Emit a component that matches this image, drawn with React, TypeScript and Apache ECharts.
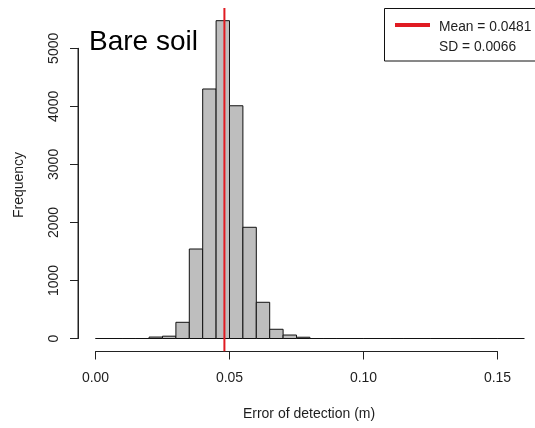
import React, { useEffect, useRef } from "react";
import * as echarts from "echarts";

const BIN_START = 0;
const BIN_WIDTH = 0.005;
const binCounts = [
  0, 0, 0, 0, 25, 40, 279, 1542, 4299, 5476, 4010, 1916, 624, 159, 60, 22,
  0, 0, 0, 0, 0, 0, 0, 0, 0, 0, 0, 0, 0, 0, 0, 0,
];
const MEAN = 0.0481;
const SD = 0.0066;
const xTicks = [0, 0.05, 0.1, 0.15];
const yTicks = [0, 1000, 2000, 3000, 4000, 5000];
const TITLE = "Bare soil";
const X_LABEL = "Error of detection (m)";
const Y_LABEL = "Frequency";

const FONT = "'Liberation Sans', Arial, sans-serif";
const TXT = "#1e1e1e";
const RED = "#e01b22";
const Y_OFFSET = 17.5;

export default function App() {
  const ref = useRef<HTMLDivElement>(null);
  useEffect(() => {
    if (!ref.current) return;
    const chart = echarts.init(ref.current, null, { renderer: "svg" });
    const histData = binCounts.map((c, i) => [
      BIN_START + i * BIN_WIDTH,
      BIN_START + (i + 1) * BIN_WIDTH,
      c,
    ]);
    const maxCount = Math.max(...binCounts);
    chart.setOption({
      animation: false,
      textStyle: { fontFamily: FONT },
      grid: { left: 95.5, right: 37.5, top: 48.3, bottom: 89.5 },
      xAxis: {
        type: "value",
        min: xTicks[0],
        max: xTicks[xTicks.length - 1],
        interval: 0.05,
        offset: 13,
        axisLine: { show: true, onZero: false, lineStyle: { color: "#222", width: 1 } },
        axisTick: { show: true, length: 8, lineStyle: { color: "#222" } },
        axisLabel: {
          margin: 18,
          fontSize: 14,
          color: TXT,
          fontFamily: FONT,
          formatter: (v: number) => v.toFixed(2),
        },
        splitLine: { show: false },
      },
      yAxis: {
        type: "value",
        position: "left",
        min: yTicks[0],
        max: yTicks[yTicks.length - 1],
        interval: 1000,
        offset: Y_OFFSET,
        axisLine: { show: true, onZero: false, lineStyle: { color: "#222", width: 1 } },
        axisTick: { show: true, length: 8, lineStyle: { color: "#222" } },
        axisLabel: {
          rotate: 90,
          margin: 18,
          fontSize: 14,
          color: TXT,
          fontFamily: FONT,
          formatter: (v: number) => String(v),
        },
        splitLine: { show: false },
      },
      series: [
        {
          type: "custom",
          clip: false,
          data: histData,
          encode: { x: [0, 1], y: 2 },
          renderItem: (params: any, api: any) => {
            const p0 = api.coord([api.value(0), 0]);
            const p1 = api.coord([api.value(1), api.value(2)]);
            return {
              type: "polygon",
              shape: {
                points: [
                  [p0[0], p0[1]],
                  [p0[0], p1[1]],
                  [p1[0], p1[1]],
                  [p1[0], p0[1]],
                ],
              },
              style: { fill: "#bebebe", stroke: "#111", lineWidth: 1 },
            };
          },
        },
        {
          type: "custom",
          clip: false,
          silent: true,
          data: [[yTicks[0], yTicks[yTicks.length - 1]]],
          encode: { y: [0, 1] },
          renderItem: (params: any, api: any) => {
            const a = api.coord([xTicks[0], api.value(0)]);
            const b = api.coord([xTicks[0], api.value(1)]);
            return {
              type: "line",
              shape: {
                x1: a[0] - Y_OFFSET,
                y1: a[1],
                x2: b[0] - Y_OFFSET,
                y2: b[1],
              },
              style: { stroke: "#222", lineWidth: 1 },
            };
          },
        },
        {
          type: "custom",
          clip: false,
          data: [[MEAN]],
          encode: { x: 0 },
          renderItem: (params: any, api: any) => {
            const top = api.coord([api.value(0), maxCount * 1.04]);
            const bot = api.coord([api.value(0), -maxCount * 0.04]);
            return {
              type: "line",
              shape: { x1: top[0], y1: top[1], x2: bot[0], y2: bot[1] },
              style: { stroke: RED, lineWidth: 2 },
              z2: 10,
            };
          },
        },
      ],
      graphic: [
        {
          type: "text",
          x: 89,
          y: 40,
          style: {
            text: TITLE,
            font: `28px ${FONT}`,
            fill: "#000",
            textVerticalAlign: "middle",
          },
        },
        {
          type: "text",
          x: 18,
          y: 185,
          rotation: Math.PI / 2,
          style: {
            text: Y_LABEL,
            font: `14px ${FONT}`,
            fill: TXT,
            textAlign: "center",
            textVerticalAlign: "middle",
          },
        },
        {
          type: "text",
          x: 309,
          y: 413,
          style: {
            text: X_LABEL,
            font: `14px ${FONT}`,
            fill: TXT,
            textAlign: "center",
            textVerticalAlign: "middle",
          },
        },
        {
          type: "rect",
          shape: { x: 384.5, y: 8.5, width: 160, height: 52.5 },
          style: { fill: "#fff", stroke: "#111", lineWidth: 1 },
          z: 20,
        },
        {
          type: "line",
          shape: { x1: 395, y1: 25, x2: 430, y2: 25 },
          style: { stroke: RED, lineWidth: 4 },
          z: 21,
        },
        {
          type: "text",
          x: 439,
          y: 26,
          z: 21,
          style: {
            text: `Mean = ${MEAN.toFixed(4)}`,
            font: `13.8px ${FONT}`,
            fill: TXT,
            textVerticalAlign: "middle",
          },
        },
        {
          type: "text",
          x: 439,
          y: 46,
          z: 21,
          style: {
            text: `SD = ${SD.toFixed(4)}`,
            font: `13.8px ${FONT}`,
            fill: TXT,
            textVerticalAlign: "middle",
          },
        },
      ],
    });
    return () => chart.dispose();
  }, []);
  return (
    <div
      ref={ref}
      style={{ position: "fixed", left: 0, top: 0, width: 535, height: 428 }}
    />
  );
}
